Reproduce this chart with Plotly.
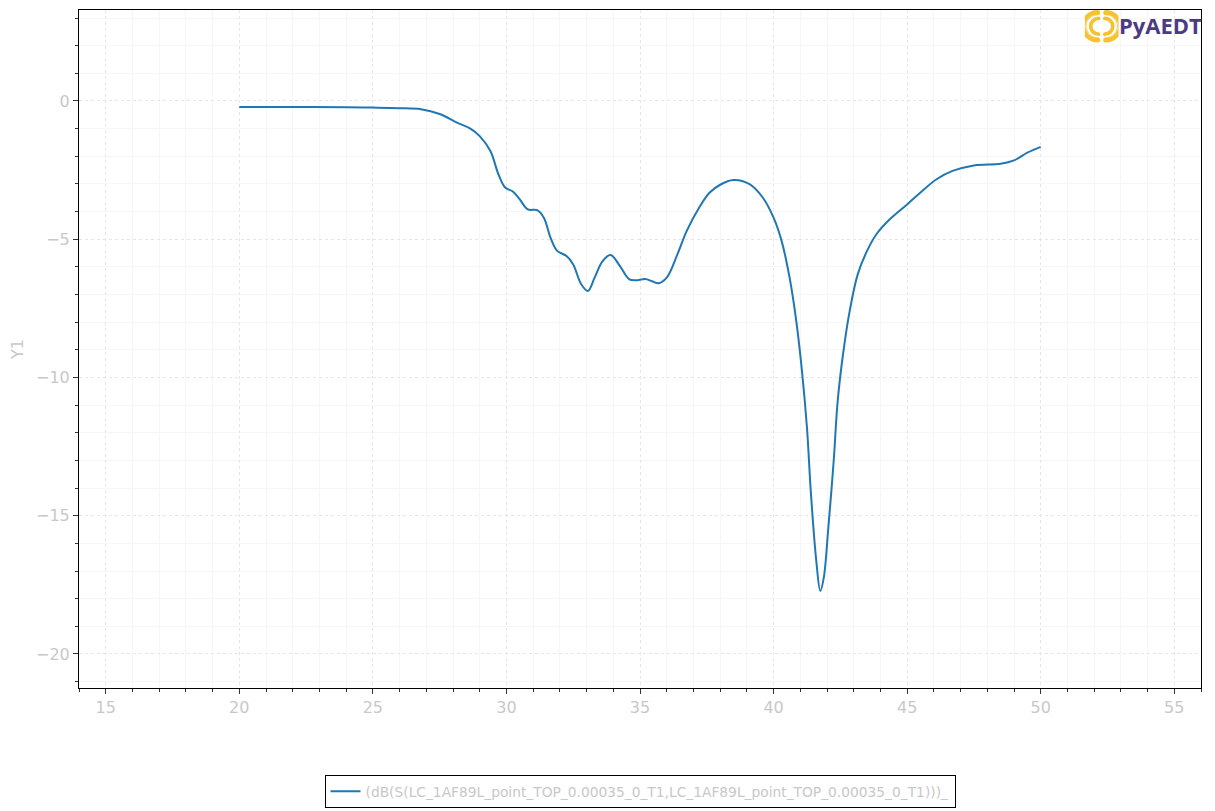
import base64
import plotly.graph_objects as go

# S-parameter sweep
freq = [20, 22, 24, 25, 26, 26.8, 27.5, 28.15, 28.65, 29.0, 29.4, 29.7, 29.95,
        30.25, 30.5, 30.8, 31.15, 31.4, 31.65, 31.9, 32.25, 32.5, 32.8, 33.05,
        33.3, 33.6, 33.9, 34.25, 34.6, 34.9, 35.2, 35.45, 35.7, 36.0, 36.4,
        36.75, 37.25, 37.6, 38.0, 38.5, 39.1, 39.6, 40.0, 40.3, 40.6, 40.85,
        41.05, 41.25, 41.4, 41.6, 41.75, 41.88, 42.05, 42.25, 42.4, 42.6,
        42.85, 43.15, 43.5, 43.85, 44.35, 45.0, 45.5, 46.1, 46.7, 47.5, 48.5,
        49.0, 49.5, 50.0]
db = [-0.22, -0.22, -0.23, -0.24, -0.26, -0.30, -0.47, -0.78, -1.00, -1.27,
      -1.81, -2.65, -3.13, -3.28, -3.56, -3.92, -3.95, -4.22, -4.94, -5.42,
      -5.61, -5.91, -6.63, -6.87, -6.39, -5.79, -5.57, -5.97, -6.45, -6.48,
      -6.44, -6.52, -6.59, -6.39, -5.55, -4.70, -3.80, -3.32, -3.03, -2.86,
      -3.01, -3.50, -4.22, -5.06, -6.39, -7.96, -9.64, -11.81, -14.22, -16.64,
      -17.72, -17.24, -15.43, -13.02, -10.85, -9.16, -7.59, -6.27, -5.42,
      -4.82, -4.28, -3.74, -3.31, -2.83, -2.53, -2.33, -2.27, -2.15, -1.87,
      -1.66]
trace_name = "(dB(S(LC_1AF89L_point_TOP_0.00035_0_T1,LC_1AF89L_point_TOP_0.00035_0_T1)))_"

LABEL = "#c8c8c8"
FONT = "DejaVu Sans"

fig = go.Figure()
fig.add_trace(go.Scatter(
    x=freq, y=db, mode="lines", name=trace_name,
    line=dict(color="#1f77b4", width=2, shape="spline", smoothing=1.0),
))

axis_common = dict(
    automargin=False,
    showline=True, linecolor="black", linewidth=1, mirror=True,
    ticks="outside", ticklen=5, tickcolor="#333", tickwidth=1,
    tickfont=dict(family=FONT, size=16, color=LABEL),
    showgrid=True, gridcolor="#e6e6e6", griddash="dot", gridwidth=1,
    zeroline=False, dtick=5,
    minor=dict(dtick=1, ticks="outside", ticklen=3, tickcolor="#333",
               showgrid=True, gridcolor="#f6f6f6", griddash="solid", gridwidth=1),
)
fig.update_xaxes(range=[14, 56], **axis_common)
fig.update_yaxes(range=[-21.23, 3.29],
                 title=dict(text="Y1", font=dict(family=FONT, size=16, color=LABEL), standoff=22),
                 **axis_common)

# PyAEDT logo: yellow icon as inline svg, wordmark as text
svg = """<svg xmlns='http://www.w3.org/2000/svg' width='64' height='64' viewBox='0 0 64 64'>
<g fill='none' stroke-linecap='round'>
<path d='M24 6 A26 26 0 0 0 24 58' stroke='#f6c232' stroke-width='10'/>
<path d='M40 6 A26 26 0 0 1 40 58' stroke='#f6c232' stroke-width='10'/>
<path d='M26 17 A15 15 0 0 0 26 47' stroke='#f6c232' stroke-width='7'/>
<path d='M38 17 A15 15 0 0 1 38 47' stroke='#f6c232' stroke-width='7'/>
<path d='M22 11 A21 21 0 0 0 22 53' stroke='#fde7a0' stroke-width='1.5'/>
<path d='M42 11 A21 21 0 0 1 42 53' stroke='#fde7a0' stroke-width='1.5'/>
</g></svg>"""
logo_src = "data:image/svg+xml;base64," + base64.b64encode(svg.encode()).decode()
fig.add_layout_image(dict(
    source=logo_src, xref="paper", yref="paper", x=0.9115, y=0.976,
    sizex=0.03, sizey=0.05, xanchor="center", yanchor="middle",
    sizing="contain", layer="above",
))
fig.add_annotation(
    text="<b>PyAEDT</b>", xref="paper", yref="paper", x=0.925, y=0.978,
    xanchor="left", yanchor="middle", showarrow=False,
    font=dict(family="Open Sans", size=22, color="#4b3b86"),
)

fig.update_layout(
    width=1208, height=804,
    margin=dict(l=71, r=15, t=2, b=124),
    paper_bgcolor="white", plot_bgcolor="white",
    showlegend=True,
    legend=dict(
        orientation="h", x=0.5, xanchor="center", y=-0.1525, yanchor="middle",
        bordercolor="black", borderwidth=1, bgcolor="white",
        font=dict(family=FONT, size=13.8, color=LABEL),
    ),
)

fig.write_html("out.html")
